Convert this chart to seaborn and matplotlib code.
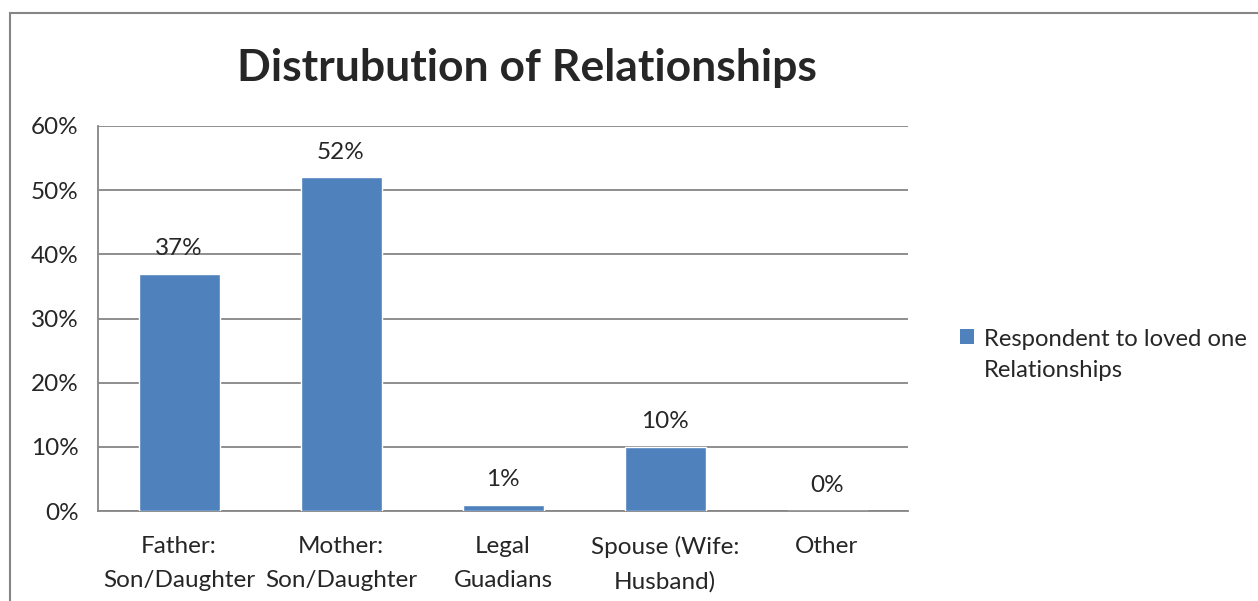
import matplotlib
matplotlib.use("Agg")
import matplotlib.pyplot as plt
import seaborn as sns
import pandas as pd
from matplotlib.patches import Rectangle, Patch
from matplotlib.ticker import FuncFormatter, FixedLocator

# data
categories = ["Father:\nSon/Daughter", "Mother:\nSon/Daughter", "Legal\nGuadians",
              "Spouse (Wife:\nHusband)", "Other"]
shares = [37, 52, 1, 10, 0]
series_name = "Respondent to loved one\nRelationships"
title = "Distrubution of Relationships"

df = pd.DataFrame({"category": categories, "share": shares})

sns.set_style("white")
plt.rcParams["font.family"] = ["Lato", "DejaVu Sans"]

bar_color = "#4F81BD"
grid_color = "#868686"
fs = 17.5

fig = plt.figure(figsize=(12.58, 6.01), dpi=100)
ax = fig.add_axes([98 / 1258, 1 - 511 / 601, 810 / 1258, 385 / 601])

sns.barplot(data=df, x="category", y="share", color=bar_color, width=0.5,
            saturation=1, ax=ax, zorder=3)

ax.set_ylim(0, 60)
ax.set_xlim(-0.5, len(categories) - 0.5)
ax.set_yticks(range(0, 61, 10))
ax.yaxis.set_major_formatter(FuncFormatter(lambda v, p: f"{int(v)}%"))
ax.yaxis.grid(True, color=grid_color, linewidth=1.3, zorder=0)
ax.set_axisbelow(True)
ax.set_xlabel("")
ax.set_ylabel("")

for side in ["top", "right"]:
    ax.spines[side].set_visible(False)
for side in ["left", "bottom"]:
    ax.spines[side].set_color(grid_color)
    ax.spines[side].set_linewidth(1.3)

# category labels in the middle, ticks at the boundaries
ax.set_xticks(range(len(categories)))
ax.set_xticklabels(categories, fontsize=fs, linespacing=1.75)
ax.tick_params(axis="x", length=0, pad=18)
ax.xaxis.set_minor_locator(FixedLocator([i - 0.5 for i in range(len(categories) + 1)]))
ax.tick_params(axis="x", which="minor", length=5, width=1.3, color=grid_color)
ax.tick_params(axis="y", length=5.8, width=1.3, color=grid_color, labelsize=fs, pad=8)

for i, v in enumerate(shares):
    ax.annotate(f"{v}%", (i, v), xytext=(0, 18), textcoords="offset points",
                ha="center", va="center", fontsize=fs)

fig.text(527 / 1258, 1 - 68 / 601, title, fontsize=32, fontweight="bold",
         ha="center", va="center")

handle = Patch(facecolor=bar_color, edgecolor="none")
leg = fig.legend([handle], [series_name], loc="upper left",
                 bbox_to_anchor=(948 / 1258, 1 - 317 / 601), frameon=False,
                 fontsize=17.2, handlelength=0.6, handleheight=0.6,
                 handletextpad=0.4, borderpad=0, labelspacing=0.3)
for t in leg.get_texts():
    t.set_linespacing(1.6)
# keep the square level with the first line of the label
for col in leg._legend_handle_box.get_children():
    for row in col.get_children():
        row.align = "top"

# outer chart border
fig.patches.append(Rectangle((10 / 1258, -0.1), 1.2, 1 - 13 / 601 + 0.1,
                             transform=fig.transFigure, fill=False,
                             edgecolor=grid_color, linewidth=1.5))

fig.savefig("out.png", dpi=100)
